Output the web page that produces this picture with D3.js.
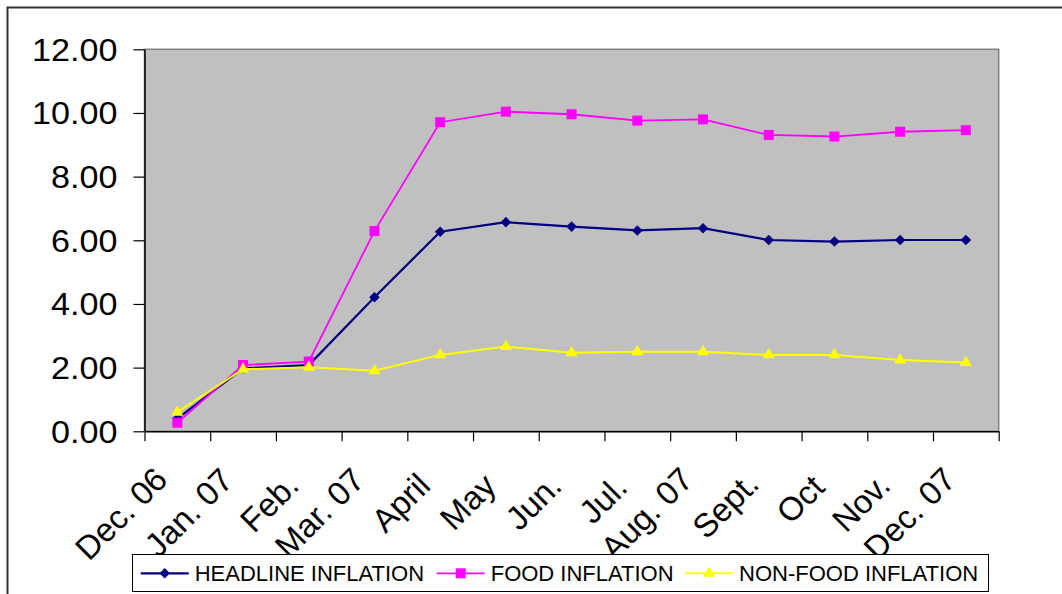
<!DOCTYPE html>
<html>
<head>
<meta charset="utf-8">
<script src="https://cdn.jsdelivr.net/npm/d3@7"></script>
<style>
  html, body { margin: 0; padding: 0; background: #ffffff; }
  svg { display: block; }
  text { font-family: "Liberation Sans", Arial, sans-serif; fill: #000; }
</style>
</head>
<body>
<svg id="chart" width="1062" height="594"></svg>
<script>
// Monthly inflation rates (%), Dec. 2006 – Dec. 2007
const months = ["Dec. 06", "Jan. 07", "Feb.", "Mar. 07", "April", "May", "Jun.",
                "Jul.", "Aug. 07", "Sept.", "Oct", "Nov.", "Dec. 07"];
const headline = [0.40, 1.98, 2.08, 4.21, 6.27, 6.57, 6.43, 6.31, 6.38, 6.01, 5.96, 6.01, 6.01];
const food     = [0.27, 2.08, 2.19, 6.29, 9.71, 10.04, 9.96, 9.76, 9.80, 9.31, 9.26, 9.41, 9.46];
const nonFood  = [0.60, 1.95, 2.01, 1.90, 2.40, 2.66, 2.47, 2.50, 2.50, 2.40, 2.40, 2.24, 2.16];
const yTicks   = [0, 2, 4, 6, 8, 10, 12];
const seriesNames = ["HEADLINE INFLATION", "FOOD INFLATION", "NON-FOOD INFLATION"];

const svg = d3.select("#chart");

// Chart-area frame (open on the right and bottom edges)
svg.append("rect")
  .attr("x", 7.5).attr("y", 7.5)
  .attr("width", 1200).attr("height", 800)
  .attr("fill", "#fff").attr("stroke", "#333").attr("stroke-width", 2);

const plot = { left: 144.5, right: 998.7, top: 49.3, bottom: 431.3 };

const x = d3.scaleBand().domain(months).range([plot.left, plot.right]).padding(0);
const xEdge = d3.scaleLinear().domain([0, months.length]).range([plot.left, plot.right]);
const y = d3.scaleLinear().domain([0, 12]).range([plot.bottom, plot.top]);
const cx = d => x(d) + x.bandwidth() / 2;

// Plot area
svg.append("rect")
  .attr("x", plot.left).attr("y", plot.top)
  .attr("width", plot.right - plot.left).attr("height", plot.bottom - plot.top)
  .attr("fill", "#c0c0c0").attr("stroke", "#808080").attr("stroke-width", 1.5);

// Y axis
const yAxis = svg.append("g")
  .attr("transform", `translate(${plot.left},0)`)
  .call(d3.axisLeft(y).tickValues(yTicks).tickFormat(d3.format(".2f")).tickSize(11).tickSizeOuter(0));
yAxis.select(".domain").attr("stroke", "#000").attr("stroke-width", 1.5);
yAxis.selectAll(".tick line").attr("stroke", "#000").attr("stroke-width", 1.2);
yAxis.selectAll(".tick text")
  .attr("x", 0).attr("dy", "0.36em")
  .attr("transform", "translate(-27,0) scale(1.12,1)")
  .style("font-size", "30.5px").style("font-family", "'Liberation Sans', Arial, sans-serif")
  .attr("fill", "#000");

// X axis: ticks on category boundaries
const xAxis = svg.append("g")
  .attr("transform", `translate(0,${plot.bottom})`)
  .call(d3.axisBottom(xEdge).tickValues(d3.range(months.length + 1)).tickFormat("").tickSize(10).tickSizeOuter(0));
xAxis.select(".domain").attr("stroke", "#000").attr("stroke-width", 1.5);
xAxis.selectAll(".tick line").attr("stroke", "#000").attr("stroke-width", 1.2);

// Rotated category labels; shorter labels sit slightly lower
const labels = svg.append("g").selectAll("text")
  .data(months).join("text")
  .attr("text-anchor", "end")
  .style("font-size", "33px")
  .text(d => d);
labels.each(function (d) {
  const slack = 112 - this.getComputedTextLength();
  d3.select(this).attr("transform",
    `translate(${cx(d) - 8},${481.7 + 0.125 * slack}) rotate(-45)`);
});

// Series
const series = [
  { name: seriesNames[0], values: headline, color: "#000080", width: 2.2, marker: "diamond" },
  { name: seriesNames[1], values: food,     color: "#ff00ff", width: 1.8, marker: "square" },
  { name: seriesNames[2], values: nonFood,  color: "#ffff00", width: 2, marker: "triangle" }
];

const markerPath = {
  diamond: d3.symbol(d3.symbolSquare, 56)(),
  square: d3.symbol(d3.symbolSquare, 100)(),
  triangle: d3.symbol(d3.symbolTriangle, 62)()
};
const markerRotate = { diamond: 45, square: 0, triangle: 0 };

const line = d3.line().x((d, i) => cx(months[i])).y(d => y(d));

series.forEach(s => {
  const g = svg.append("g");
  g.append("path")
    .attr("d", line(s.values))
    .attr("fill", "none").attr("stroke", s.color).attr("stroke-width", s.width);
  g.selectAll("path.mk")
    .data(s.values).join("path")
    .attr("class", "mk")
    .attr("d", markerPath[s.marker])
    .attr("transform", (d, i) => `translate(${cx(months[i])},${y(d)}) rotate(${markerRotate[s.marker]})`)
    .attr("fill", s.color);
});

// Legend
const legend = svg.append("g");
legend.append("rect")
  .attr("x", 132.5).attr("y", 554.5).attr("width", 856).attr("height", 37)
  .attr("fill", "#fff").attr("stroke", "#000").attr("stroke-width", 1);

const legendX = [140.7, 436.7, 685];
series.forEach((s, i) => {
  const lx = legendX[i], ly = 573.3;
  legend.append("line")
    .attr("x1", lx).attr("x2", lx + 48).attr("y1", ly).attr("y2", ly)
    .attr("stroke", s.color).attr("stroke-width", s.width);
  legend.append("path")
    .attr("d", markerPath[s.marker])
    .attr("transform", `translate(${lx + 24},${ly}) rotate(${markerRotate[s.marker]})`)
    .attr("fill", s.color);
  legend.append("text")
    .attr("x", lx + 54).attr("y", ly + 8)
    .style("font-size", "22px")
    .text(s.name);
});
</script>
</body>
</html>
